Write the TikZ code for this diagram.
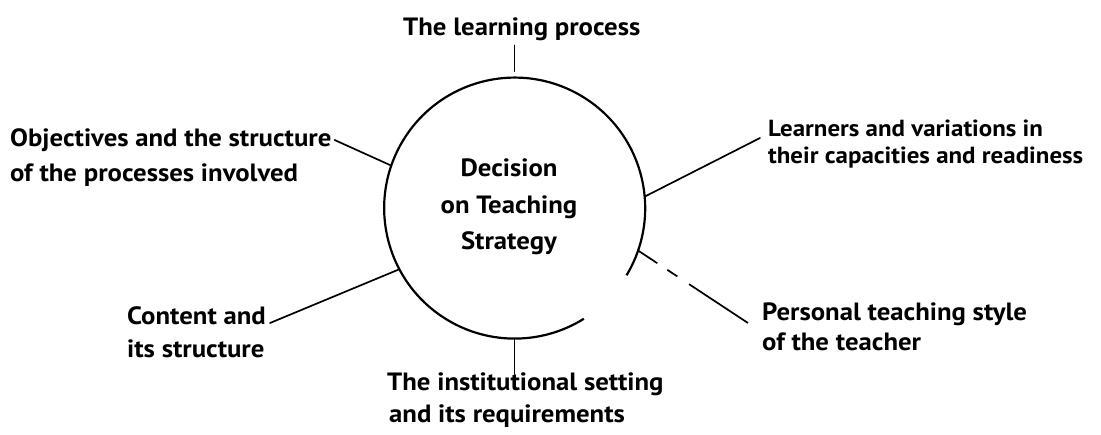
\documentclass[tikz,border=0pt]{standalone}
\usepackage{fontspec}
\setmainfont{PT Sans}[FakeStretch=1.07]
\usetikzlibrary{calc}
\begin{document}
\begin{tikzpicture}[x=1pt,y=-1pt,
  lbl/.style={inner sep=0pt, anchor=north west, align=left},
  conn/.style={line width=1.7pt, line cap=round},
  ring/.style={line width=2.2pt}]
\path[use as bounding box, fill=white] (0,0) rectangle (1101,434);
\node[circle, minimum size=261pt, inner sep=0pt] (c) at (514.5,208) {};
\draw[ring] (c.-31) arc[start angle=-31, end angle=302, radius=130.5pt];
\node[inner sep=0pt, align=center, anchor=north, font=\bfseries\fontsize{25}{36.5}\selectfont] (dec) at (509,159) {Decision\\on Teaching\\Strategy};
\node[lbl, font=\bfseries\fontsize{25}{27}\selectfont] (tlp) at (403,18) {The learning process};
\node[lbl, font=\bfseries\fontsize{25}{35}\selectfont] (obj) at (10,128) {Objectives and the structure\\of the processes involved};
\node[lbl, font=\bfseries\fontsize{23.3}{27}\selectfont] (lrn) at (768,120) {Learners and variations in\\their capacities and readiness};
\node[lbl, font=\bfseries\fontsize{25}{30}\selectfont] (per) at (762,303) {Personal teaching style\\of the teacher};
\node[lbl, font=\bfseries\fontsize{25}{33}\selectfont] (con) at (127,306) {Content and\\its structure};
\node[lbl, font=\bfseries\fontsize{25}{32}\selectfont] (ins) at (387,373) {The institutional setting\\\hspace*{2pt}and its requirements};
\coordinate (tlpend) at ($(c.north |- tlp.south)+(0,4)$);
\coordinate (objend) at ($(obj.north east)+(3,12)$);
\coordinate (lrnend) at ($(lrn.north west)+(-8,18)$);
\coordinate (perend) at ($(per.north west)+(-14,20)$);
\coordinate (conend) at ($(con.north west)+(143,17)$);
\coordinate (insend) at ($(c.south |- ins.north)+(0,1)$);
\draw[conn] (tlpend) -- ($(c.north)+(0,-6)$);
\draw[conn] (objend) -- (c.161);
\draw[conn] (lrnend) -- (c.5);
\draw[conn, line cap=butt, dash pattern=on 23pt off 12pt on 12pt off 14pt on 100pt] (c.-19) -- (perend);
\draw[conn] (conend) -- (c.208);
\draw[conn] (c.south) -- (insend);
\end{tikzpicture}
\end{document}
